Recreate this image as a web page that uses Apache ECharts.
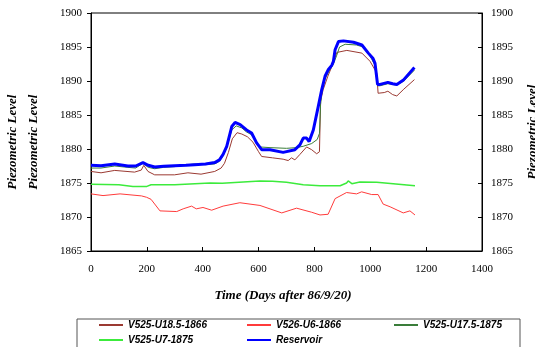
<!DOCTYPE html>
<html><head><meta charset="utf-8">
<script src="https://cdn.jsdelivr.net/npm/echarts@6/dist/echarts.min.js"></script>
<style>html,body{margin:0;padding:0;background:#fff}#c{width:535px;height:347px}</style>
</head><body><div id="c"></div>
<script>
// ---- data ----
var xTicks = [0, 200, 400, 600, 800, 1000, 1200, 1400];
var yTicks = [1865, 1870, 1875, 1880, 1885, 1890, 1895, 1900];

var seriesNames = ['V525-U18.5-1866', 'V526-U6-1866', 'V525-U17.5-1875', 'V525-U7-1875', 'Reservoir'];

var brownDays = [0, 36, 85, 156, 180, 189, 204, 228, 299, 347, 394, 443, 466, 478, 492, 506, 523, 540, 560, 580, 600, 611, 650, 688, 706, 718, 730, 748, 772, 790, 808, 818, 822, 831, 848, 867, 880, 916, 970, 999, 1023, 1028, 1035, 1050, 1063, 1080, 1095, 1120, 1158];
var brownLevels = [1876.7, 1876.5, 1876.85, 1876.6, 1876.9, 1877.6, 1876.7, 1876.2, 1876.2, 1876.5, 1876.3, 1876.7, 1877.2, 1877.9, 1879.5, 1881.5, 1882.4, 1882.2, 1881.8, 1881.0, 1879.6, 1878.9, 1878.7, 1878.5, 1878.3, 1878.7, 1878.4, 1879.2, 1880.3, 1879.9, 1879.3, 1879.6, 1887.0, 1888.7, 1890.7, 1892.6, 1894.2, 1894.5, 1894.1, 1892.9, 1891.2, 1888.2, 1888.0, 1888.3, 1888.5, 1888.0, 1887.8, 1888.8, 1890.2];

var redDays = [0, 43, 104, 181, 199, 215, 247, 307, 330, 360, 377, 401, 432, 473, 533, 605, 683, 736, 790, 820, 849, 874, 915, 951, 969, 1005, 1028, 1046, 1071, 1118, 1142, 1160];
var redLevels = [1873.4, 1873.15, 1873.4, 1873.1, 1872.9, 1872.6, 1870.9, 1870.8, 1871.2, 1871.6, 1871.2, 1871.4, 1871.0, 1871.6, 1872.1, 1871.7, 1870.6, 1871.3, 1870.7, 1870.3, 1870.4, 1872.7, 1873.6, 1873.4, 1873.7, 1873.3, 1873.3, 1871.9, 1871.5, 1870.6, 1870.9, 1870.3];

var dkGreenDays = [0, 36, 85, 132, 160, 186, 205, 228, 260, 299, 347, 371, 410, 443, 460, 473, 486, 504, 520, 540, 557, 575, 593, 605, 641, 700, 736, 760, 790, 810, 818, 822, 826, 838, 850, 868, 880, 890, 910, 950, 975, 995, 1017, 1026, 1035, 1063, 1095, 1120, 1158];
var dkGreenLevels = [1877.2, 1877.2, 1877.5, 1877.3, 1877.2, 1877.9, 1877.3, 1877.1, 1877.3, 1877.4, 1877.7, 1877.8, 1877.7, 1877.8, 1878.2, 1879.0, 1880.2, 1882.8, 1883.4, 1883.1, 1882.5, 1882.1, 1881.0, 1880.3, 1880.2, 1880.1, 1880.2, 1880.4, 1880.8, 1881.4, 1882.3, 1886.5, 1888.2, 1890.3, 1891.3, 1892.5, 1893.8, 1895.0, 1895.4, 1895.3, 1895.0, 1894.0, 1892.3, 1889.3, 1889.3, 1889.6, 1889.4, 1890.0, 1891.6];

var ltGreenDays = [0, 100, 150, 200, 215, 300, 426, 470, 605, 650, 700, 760, 820, 892, 915, 921, 934, 963, 1023, 1082, 1160];
var ltGreenLevels = [1874.8, 1874.75, 1874.5, 1874.5, 1874.75, 1874.75, 1875.0, 1874.95, 1875.3, 1875.25, 1875.1, 1874.75, 1874.6, 1874.6, 1875.0, 1875.3, 1874.9, 1875.15, 1875.1, 1874.9, 1874.6];

var resDays = [0, 36, 85, 132, 160, 186, 205, 228, 260, 299, 340, 371, 410, 443, 460, 473, 486, 504, 516, 534, 557, 575, 593, 611, 641, 688, 730, 736, 748, 760, 772, 781, 796, 814, 826, 838, 850, 862, 868, 874, 886, 904, 940, 970, 993, 1010, 1017, 1026, 1035, 1063, 1080, 1095, 1120, 1158];
var resLevels = [1877.6, 1877.55, 1877.8, 1877.5, 1877.5, 1878.0, 1877.6, 1877.35, 1877.45, 1877.55, 1877.6, 1877.7, 1877.8, 1878.0, 1878.4, 1879.2, 1880.4, 1883.3, 1883.9, 1883.6, 1882.8, 1882.35, 1880.9, 1879.9, 1879.9, 1879.5, 1879.9, 1879.9, 1880.6, 1881.6, 1881.6, 1881.1, 1882.8, 1886.3, 1888.7, 1890.7, 1891.7, 1892.3, 1892.9, 1894.6, 1895.8, 1895.9, 1895.7, 1895.3, 1894.1, 1893.3, 1892.6, 1889.5, 1889.5, 1889.8, 1889.6, 1889.5, 1890.2, 1892.0];

function pairs(d, v) { return d.map(function (x, i) { return [x, v[i]]; }); }

var serif = '"Liberation Serif","Times New Roman",serif';
var sans = '"Liberation Sans",Arial,sans-serif';
function plain(v) { return String(v); }

var chart = echarts.init(document.getElementById('c'), null, { renderer: 'canvas' });

var legendText = { fontFamily: sans, fontSize: 10, fontWeight: 'bold', fontStyle: 'italic', color: '#000' };
function mkLegend(names, left) {
  return {
    data: names, orient: 'vertical', left: left, top: 320, itemWidth: 24, itemHeight: 10, itemGap: 5,
    textStyle: legendText, selectedMode: false, padding: 0,
    itemStyle: { opacity: 0 }
  };
}

chart.setOption({
  animation: false,
  backgroundColor: '#fff',
  grid: { left: 91, right: 53, top: 13, bottom: 96, show: true, borderColor: '#000', borderWidth: 1 },
  xAxis: {
    type: 'value', min: xTicks[0], max: xTicks[xTicks.length - 1], interval: 200,
    axisLine: { lineStyle: { color: '#000', width: 1 } },
    axisTick: { inside: true, length: 4, lineStyle: { color: '#000' } },
    axisLabel: { color: '#000', fontFamily: serif, fontSize: 11, margin: 13, formatter: plain },
    splitLine: { show: false }
  },
  yAxis: [{
    type: 'value', min: yTicks[0], max: yTicks[yTicks.length - 1], interval: 5, position: 'left',
    axisLine: { show: true, lineStyle: { color: '#000', width: 1 } },
    axisTick: { show: true, inside: false, length: 4, lineStyle: { color: '#000' } },
    axisLabel: { color: '#000', fontFamily: serif, fontSize: 11, margin: 9, formatter: plain },
    splitLine: { show: false }
  }, {
    type: 'value', min: yTicks[0], max: yTicks[yTicks.length - 1], interval: 5, position: 'right',
    axisLine: { show: true, lineStyle: { color: '#000', width: 1 } },
    axisTick: { show: true, inside: true, length: 4, lineStyle: { color: '#000' } },
    axisLabel: { color: '#000', fontFamily: serif, fontSize: 11, margin: 9, formatter: plain },
    splitLine: { show: false }
  }],
  legend: [
    mkLegend([seriesNames[0], seriesNames[3]], 98),
    mkLegend([seriesNames[1], seriesNames[4]], 246),
    mkLegend([seriesNames[2]], 393)
  ],
  graphic: [
    { type: 'rect', shape: { x: 77, y: 319, width: 443, height: 40 }, style: { fill: 'none', stroke: '#555', lineWidth: 1 }, z: 0, silent: true },
    { type: 'text', x: 13, y: 142, rotation: Math.PI / 2, style: { text: 'Piezometric Level', font: 'italic bold 13px ' + serif, fill: '#000', textAlign: 'center', textVerticalAlign: 'middle' } },
    { type: 'text', x: 34, y: 142, rotation: Math.PI / 2, style: { text: 'Piezometric Level', font: 'italic bold 13px ' + serif, fill: '#000', textAlign: 'center', textVerticalAlign: 'middle' } },
    { type: 'text', x: 533, y: 132, rotation: Math.PI / 2, style: { text: 'Piezometric Level', font: 'italic bold 13px ' + serif, fill: '#000', textAlign: 'center', textVerticalAlign: 'middle' } },
    { type: 'text', x: 283, y: 296, style: { text: 'Time (Days after 86/9/20)', font: 'italic bold 13px ' + serif, fill: '#000', textAlign: 'center', textVerticalAlign: 'middle' } }
  ],
  series: [
    { name: seriesNames[0], type: 'line', symbol: 'none', data: pairs(brownDays, brownLevels), lineStyle: { color: '#9B3A32', width: 1 }, itemStyle: { color: '#9B3A32' }, z: 3 },
    { name: seriesNames[1], type: 'line', symbol: 'none', data: pairs(redDays, redLevels), lineStyle: { color: '#FF3B3B', width: 1 }, itemStyle: { color: '#FF3B3B' }, z: 3 },
    { name: seriesNames[2], type: 'line', symbol: 'none', data: pairs(dkGreenDays, dkGreenLevels), lineStyle: { color: '#3A7D3A', width: 1 }, itemStyle: { color: '#3A7D3A' }, z: 4 },
    { name: seriesNames[3], type: 'line', symbol: 'none', data: pairs(ltGreenDays, ltGreenLevels), lineStyle: { color: '#3CEB3C', width: 1.5 }, itemStyle: { color: '#3CEB3C' }, z: 3 },
    { name: seriesNames[4], type: 'line', symbol: 'none', data: pairs(resDays, resLevels), lineStyle: { color: '#0000FF', width: 3 }, itemStyle: { color: '#0000FF' }, z: 5 }
  ]
});
</script></body></html>
